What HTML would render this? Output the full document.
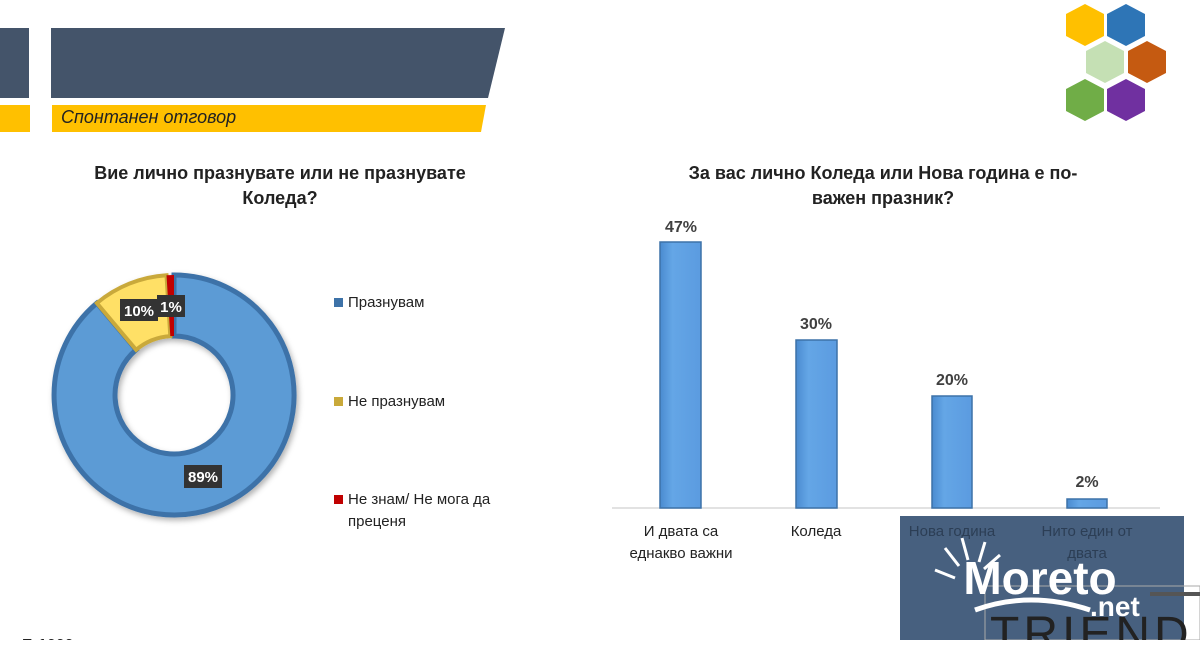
<!DOCTYPE html>
<html><head><meta charset="utf-8"><style>
body{margin:0;width:1200px;height:640px;overflow:hidden;background:#fff;font-family:"Liberation Sans",sans-serif}
</style></head><body>
<svg width="1200" height="640" viewBox="0 0 1200 640" xmlns="http://www.w3.org/2000/svg" font-family="Liberation Sans, sans-serif">
<defs>
<filter id="sh" x="-20%" y="-20%" width="140%" height="140%"><feDropShadow dx="2" dy="3" stdDeviation="3" flood-opacity="0.3"/></filter>
<linearGradient id="bar" x1="0" x2="1"><stop offset="0" stop-color="#4a8bd0"/><stop offset="0.3" stop-color="#64a6e6"/><stop offset="1" stop-color="#5b9be0"/></linearGradient>
</defs>
<!-- header -->
<rect x="0" y="28" width="29" height="70" fill="#44546a"/>
<polygon points="51,28 505,28 488,98 51,98" fill="#44546a"/>
<rect x="0" y="105" width="30" height="27" fill="#ffc000"/>
<polygon points="52,105 486,105 481,132 52,132" fill="#ffc000"/>
<text x="61" y="123" font-size="18" font-style="italic" fill="#222">Спонтанен отговор</text>
<!-- hexagons -->
<g>
<polygon points="1085,4 1104,14 1104,36 1085,46 1066,36 1066,14" fill="#ffc000"/>
<polygon points="1126,4 1145,14 1145,36 1126,46 1107,36 1107,14" fill="#2e75b6"/>
<polygon points="1105,41 1124,51 1124,73 1105,83 1086,73 1086,51" fill="#c5e0b4"/>
<polygon points="1147,41 1166,51 1166,73 1147,83 1128,73 1128,51" fill="#c55a11"/>
<polygon points="1085,79 1104,89 1104,111 1085,121 1066,111 1066,89" fill="#70ad47"/>
<polygon points="1126,79 1145,89 1145,111 1126,121 1107,111 1107,89" fill="#7030a0"/>
</g>
<!-- left title -->
<text x="280" y="179" font-size="18" font-weight="bold" text-anchor="middle" fill="#222">Вие лично празнувате или не празнувате</text>
<text x="280" y="204" font-size="18" font-weight="bold" text-anchor="middle" fill="#222">Коледа?</text>
<!-- donut -->
<g filter="url(#sh)">
<path d="M174,275 A120,120 0 1 1 96.9,303.1 L136.1,349.8 A59,59 0 1 0 174,336 Z" fill="#5b9bd5" stroke="#3d72a8" stroke-width="5"/>
<path d="M96.9,303.1 A120,120 0 0 1 166.5,275.2 L170.3,336.1 A59,59 0 0 0 136.1,349.8 Z" fill="#ffe066" stroke="#c9a93a" stroke-width="4"/>
<path d="M166.5,275.2 A120,120 0 0 1 174,275 L174,336 A59,59 0 0 0 170.3,336.1 Z" fill="#c00000"/>
</g>
<rect x="120" y="299" width="38" height="22" fill="#333"/><text x="139" y="316" font-size="15" font-weight="bold" fill="#fff" text-anchor="middle">10%</text>
<rect x="157" y="295" width="28" height="22" fill="#333"/><text x="171" y="312" font-size="15" font-weight="bold" fill="#fff" text-anchor="middle">1%</text>
<rect x="184" y="465" width="38" height="23" fill="#333"/><text x="203" y="482" font-size="15" font-weight="bold" fill="#fff" text-anchor="middle">89%</text>
<!-- legend -->
<rect x="334" y="298" width="9" height="9" fill="#3d72a8"/><text x="348" y="307" font-size="15" fill="#222">Празнувам</text>
<rect x="334" y="397" width="9" height="9" fill="#c9a93a"/><text x="348" y="406" font-size="15" fill="#222">Не празнувам</text>
<rect x="334" y="495" width="9" height="9" fill="#c00000"/><text x="348" y="504" font-size="15" fill="#222">Не знам/ Не мога да</text>
<text x="348" y="526" font-size="15" fill="#222">преценя</text>
<!-- right title -->
<text x="883" y="179" font-size="18" font-weight="bold" text-anchor="middle" fill="#222">За вас лично Коледа или Нова година е по-</text>
<text x="883" y="204" font-size="18" font-weight="bold" text-anchor="middle" fill="#222">важен празник?</text>
<!-- bars -->
<line x1="612" y1="508" x2="1160" y2="508" stroke="#d9d9d9" stroke-width="1.5"/>
<g stroke="#3d72a8" stroke-width="1.5" fill="url(#bar)">
<rect x="660" y="242" width="41" height="266"/>
<rect x="796" y="340" width="41" height="168"/>
<rect x="932" y="396" width="40" height="112"/>
<rect x="1067" y="499" width="40" height="9"/>
</g>
<g font-size="16" font-weight="bold" fill="#404040" text-anchor="middle">
<text x="681" y="232">47%</text><text x="816" y="329">30%</text><text x="952" y="385">20%</text><text x="1087" y="487">2%</text>
</g>
<g font-size="15" fill="#222" text-anchor="middle">
<text x="681" y="536">И двата са</text><text x="681" y="558">еднакво важни</text>
<text x="816" y="536">Коледа</text>
</g>
<!-- watermark box -->
<rect x="900" y="516" width="284" height="124" fill="#47607f"/>
<g font-size="15" fill="#2c3e55" text-anchor="middle">
<text x="952" y="536">Нова година</text><text x="1087" y="536">Нито един от</text><text x="1087" y="558">двата</text>
</g>
<rect x="985" y="586" width="215" height="54" fill="none" stroke="#aaa" stroke-width="1"/>
<rect x="1150" y="592" width="50" height="4" fill="#555"/>
<text x="990" y="650" font-size="48" fill="#222" letter-spacing="4">TRIEND</text>
<text x="1040" y="594" font-size="46" font-weight="bold" fill="#fff" text-anchor="middle">Moreto</text>
<text x="1090" y="616" font-size="28" font-weight="bold" fill="#fff">.net</text>
<path d="M935,570 l20,8 M945,548 l14,18 M962,538 l6,22 M985,542 l-6,20 M1000,555 l-16,14" stroke="#fff" stroke-width="3" fill="none"/>
<path d="M975,610 Q1030,590 1090,610" stroke="#fff" stroke-width="5" fill="none"/>
<text x="22" y="650" font-size="16" font-weight="bold" fill="#222">Б    1000</text>
</svg>
</body></html>
